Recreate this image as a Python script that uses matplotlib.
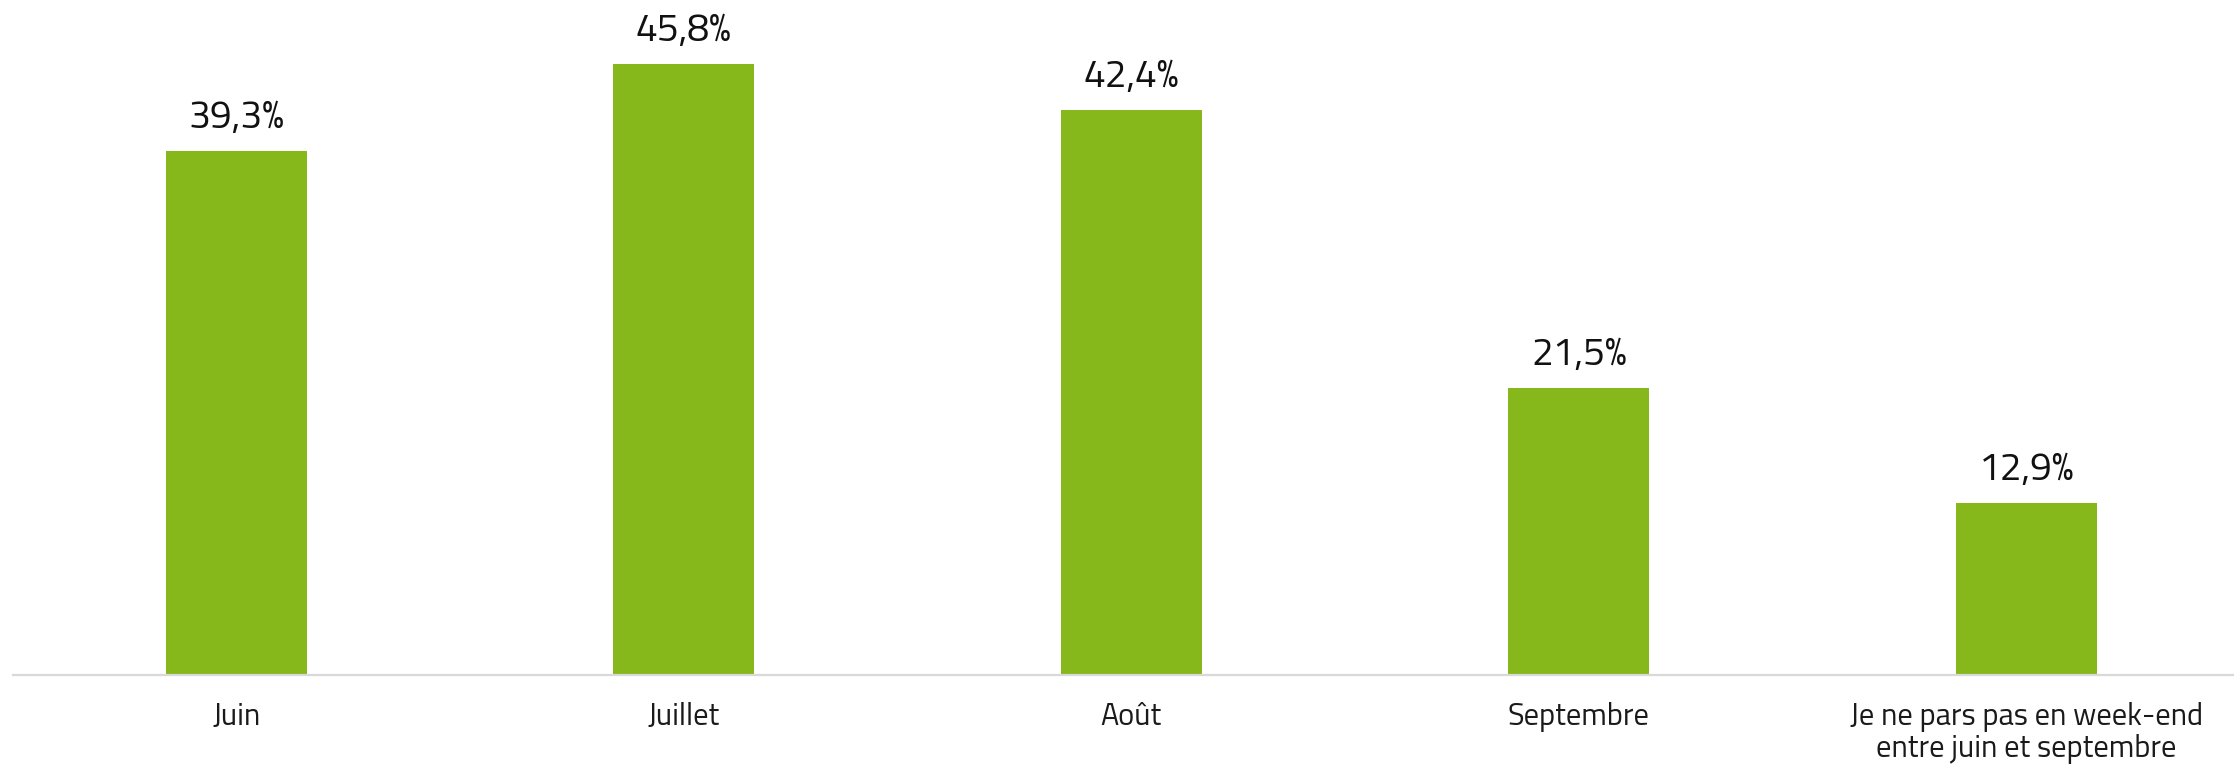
import matplotlib
matplotlib.use('Agg')
import matplotlib.pyplot as plt

categories = ['Juin', 'Juillet', 'Août', 'Septembre',
              'Je ne pars pas en week-end\nentre juin et septembre']
values = [39.3, 45.8, 42.4, 21.5, 12.9]

bar_color = '#86b71b'
axis_color = '#d9d9d9'

plt.rcParams['font.family'] = ['Titillium Web', 'DejaVu Sans']

W, H, DPI = 2234, 767, 100
fig = plt.figure(figsize=(W / DPI, H / DPI), dpi=DPI)

# plot area in pixels: category band from x=12.75 to 2250, baseline at y=675
left = 12.75 / W
width = (2250 - 12.75) / W
bottom = (H - 675) / H
ymax = 50
height = ymax * 13.33 / H
ax = fig.add_axes([left, bottom, width, height])

x = range(len(categories))
ax.bar(x, values, width=0.315, color=bar_color, zorder=2)
ax.set_xlim(-0.5, len(categories) - 0.5)
ax.set_ylim(0, ymax)

for i, v in zip(x, values):
    ax.annotate(('%.1f%%' % v).replace('.', ','), (i, v), xytext=(0, 23),
                textcoords='offset pixels', ha='center', va='baseline',
                fontsize=28, color='#111111')

ax.set_xticks(list(x))
ax.set_xticklabels(categories, fontsize=22, color='#1a1a1a', linespacing=1.1)
ax.tick_params(axis='x', length=0, pad=19.5)
ax.set_yticks([])

for side in ['top', 'right', 'left']:
    ax.spines[side].set_visible(False)
ax.spines['bottom'].set_color(axis_color)
ax.spines['bottom'].set_linewidth(1.6)
ax.spines['bottom'].set_clip_on(False)

fig.savefig('out.png', dpi=DPI)
